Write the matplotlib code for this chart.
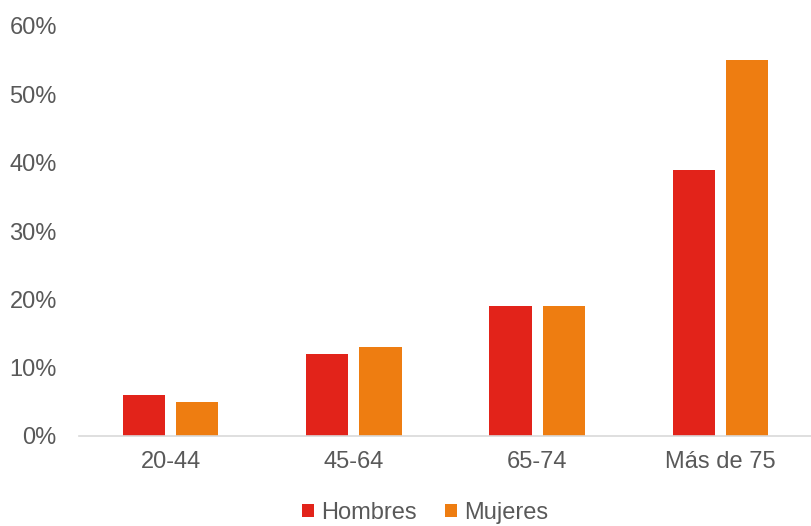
import numpy as np
import matplotlib.pyplot as plt
from matplotlib.ticker import PercentFormatter

# ======================
# Data
# ======================
categories = ['20-44', '45-64', '65-74', 'Más de 75']
hombres = [6, 12, 19, 39]
mujeres = [5, 13, 19, 55]
y_ticks = [0, 10, 20, 30, 40, 50, 60]

RED = '#E2231A'
ORANGE = '#EE7D11'
TEXT = '#595959'
FS = 17

plt.rcParams['font.family'] = ['Liberation Sans', 'DejaVu Sans']

fig = plt.figure(figsize=(8.12, 5.26), dpi=100)
ax = fig.add_axes([79 / 812, 90 / 526, 733 / 812, 410 / 526])

x = np.arange(len(categories))
w = 0.23
off = 0.145
ax.bar(x - off, hombres, width=w, color=RED, label='Hombres')
ax.bar(x + off, mujeres, width=w, color=ORANGE, label='Mujeres')

ax.set_xlim(-0.5, 3.5)
ax.set_ylim(0, 60)
ax.set_yticks(y_ticks)
ax.yaxis.set_major_formatter(PercentFormatter(decimals=0))
ax.set_xticks(x)
ax.set_xticklabels(categories)
ax.tick_params(axis='y', length=0, pad=16, labelsize=FS, labelcolor=TEXT)
ax.tick_params(axis='x', length=0, pad=11, labelsize=FS, labelcolor=TEXT)

for s in ['top', 'right', 'left']:
    ax.spines[s].set_visible(False)
ax.spines['bottom'].set_color('#D9D9D9')
ax.spines['bottom'].set_linewidth(1.2)

# legend sits at the very bottom edge, as in the original
fig.legend(loc='center', bbox_to_anchor=(425 / 812, 1 - 513 / 526), ncol=2,
           frameon=False, fontsize=FS, labelcolor=TEXT, handlelength=0.5,
           handleheight=0.5, handletextpad=0.3, columnspacing=1.2, borderpad=0)

fig.savefig('out.png', dpi=100)
